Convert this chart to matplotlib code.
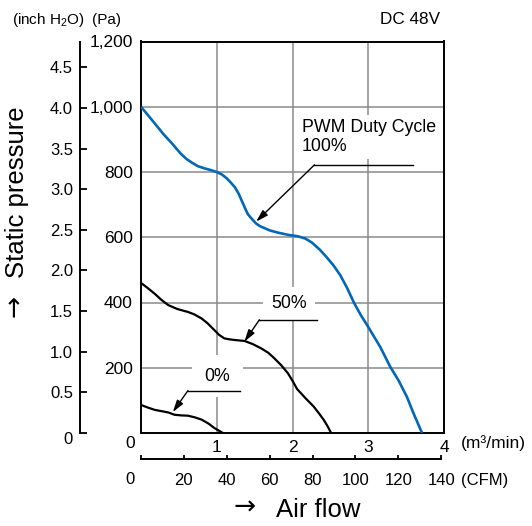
import numpy as np
import matplotlib
matplotlib.use("Agg")
import matplotlib.pyplot as plt
from matplotlib.ticker import FuncFormatter

plt.rcParams['font.family'] = ['Liberation Sans', 'DejaVu Sans']
plt.rcParams['mathtext.fontset'] = 'custom'
plt.rcParams['mathtext.rm'] = 'Liberation Sans'

# P-Q curves: air flow (m3/min), static pressure (Pa)
flow_100 = [0, 0.10, 0.22, 0.30, 0.40, 0.47, 0.53, 0.60, 0.67, 0.75, 0.84,
            0.92, 1.0, 1.07, 1.13, 1.18, 1.24, 1.29, 1.33, 1.37, 1.41, 1.46,
            1.52, 1.57, 1.63, 1.70, 1.81, 1.95, 2.07, 2.17, 2.26, 2.36, 2.45,
            2.54, 2.63, 2.72, 2.81, 2.90, 3.0, 3.08, 3.16, 3.29, 3.40, 3.51,
            3.60, 3.71]
pres_100 = [1000, 972, 938, 915, 890, 871, 855, 840, 829, 818, 811,
            806, 800, 792, 781, 769, 753, 733, 712, 691, 671, 657,
            642, 634, 628, 621, 614, 607, 603, 596, 583, 562, 539,
            514, 484, 445, 400, 362, 325, 294, 263, 203, 161, 111,
            59, 0]

flow_50 = [0, 0.09, 0.18, 0.27, 0.36, 0.48, 0.62, 0.70, 0.80, 0.88, 0.97,
           1.03, 1.10, 1.17, 1.24, 1.37, 1.48, 1.59, 1.68, 1.76, 1.85,
           1.94, 2.0, 2.06, 2.17, 2.28, 2.35, 2.41, 2.46, 2.51]
pres_50 = [460, 444, 427, 408, 392, 380, 371, 364, 351, 336, 315,
           301, 290, 287, 285, 282, 272, 259, 246, 229, 208,
           183, 160, 135, 107, 81, 60, 41, 22, 0]

flow_0 = [0, 0.09, 0.18, 0.27, 0.36, 0.44, 0.53, 0.62, 0.71, 0.80, 0.89,
          0.97, 1.03, 1.08]
pres_0 = [86, 78, 71, 67, 63, 56, 54, 53, 48, 41, 29, 15, 7, 0]

pa_ticks = [200, 400, 600, 800, 1000, 1200]
m3_ticks = [1, 2, 3, 4]
inch_ticks = [0, 0.5, 1.0, 1.5, 2.0, 2.5, 3.0, 3.5, 4.0, 4.5]
cfm_ticks = [0, 20, 40, 60, 80, 100, 120, 140]

PA_PER_INCH = 249.089
CFM_PER_M3 = 35.3147

BLUE = '#0068b7'
GRID = '#8a8a8a'

W, H = 532, 526
fig = plt.figure(figsize=(W / 100, H / 100), dpi=100)

L, R, T, B = 141, 444, 41.5, 433
ax = fig.add_axes([L / W, 1 - B / H, (R - L) / W, (B - T) / H])
ax.set_xlim(0, 4)
ax.set_ylim(0, 1200)

kw = dict(solid_joinstyle='round', solid_capstyle='butt', zorder=4)
ax.plot(flow_100, pres_100, color=BLUE, lw=1.9, **kw)
ax.plot(flow_50, pres_50, color='black', lw=1.6, **kw)
ax.plot(flow_0, pres_0, color='black', lw=1.6, **kw)

ax.set_xticks(m3_ticks)
ax.set_yticks(pa_ticks)
ax.yaxis.set_major_formatter(FuncFormatter(lambda v, p: f"{int(v):,}"))
ax.tick_params(length=0, labelsize=12.5)
ax.tick_params(axis='y', pad=6)
ax.tick_params(axis='x', pad=5)
ax.grid(True, color=GRID, lw=1.1, zorder=1)
for s in ax.spines.values():
    s.set_linewidth(1.4)
ax.text(-0.036, -0.026, '0', transform=ax.transAxes, ha='center', va='center',
        fontsize=12.5)
ax.text(1.055, -0.026, '(m³/min)', transform=ax.transAxes, ha='left',
        va='center', fontsize=12.5)

# leader lines + labels
box = dict(facecolor='white', edgecolor='none', pad=3)
leaders = [((2.29, 822), (3.59, 822), (1.52, 648)),
           ((1.563, 347), (2.329, 347), (1.365, 280)),
           ((0.62, 130), (1.31, 130), (0.42, 64))]
for knee, end, tip in leaders:
    ax.plot([knee[0], end[0]], [knee[1], end[1]], color='black', lw=1.0, zorder=3)
    ax.annotate('', xy=tip, xytext=knee, zorder=3,
                arrowprops=dict(arrowstyle='-|>,head_length=0.6,head_width=0.18',
                                color='black', lw=1.0, shrinkA=0, shrinkB=0,
                                mutation_scale=12))
ax.text(2.12, 961, 'PWM Duty Cycle\n100%', ha='left', va='top', fontsize=12.8,
        linespacing=1.1, bbox=box, zorder=2)
ax.text(1.955, 397, '50%', ha='center', va='center', fontsize=12.8,
        bbox=dict(facecolor='white', edgecolor='none', pad=6), zorder=2)
ax.text(1.01, 174, '0%', ha='center', va='center', fontsize=12.8,
        bbox=dict(facecolor='white', edgecolor='none', pad=9), zorder=2)

# inch H2O axis on the far left
ax2 = fig.add_axes([80 / W, 1 - B / H, 0.001, (B - T) / H])
ax2.set_facecolor('none')
ax2.set_ylim(0, 1200 / PA_PER_INCH)
ax2.set_yticks(inch_ticks)
ax2.set_yticklabels([''] + [f"{v:.1f}" for v in inch_ticks[1:]])
ax2.tick_params(axis='y', direction='in', length=5, width=1.3, labelsize=12,
                pad=5)
ax2.set_xticks([])
for k in ('top', 'right', 'bottom'):
    ax2.spines[k].set_visible(False)
ax2.spines['left'].set_linewidth(1.4)
fig.text(68 / W, 1 - 440 / H, '0', ha='center', va='center', fontsize=12)

# CFM axis below
ax3 = fig.add_axes([L / W, 1 - 459 / H, (R - L) / W, 0.001])
ax3.set_facecolor('none')
ax3.set_xlim(0, 4 * CFM_PER_M3)
ax3.set_xticks(cfm_ticks)
ax3.set_xticklabels([''] + [str(v) for v in cfm_ticks[1:]])
ax3.tick_params(axis='x', direction='in', length=3, width=1.3, labelsize=12,
                pad=10)
ax3.set_yticks([])
for k in ('top', 'right', 'left'):
    ax3.spines[k].set_visible(False)
ax3.spines['bottom'].set_linewidth(1.4)
ax3.spines['bottom'].set_bounds(0, 140)
fig.text(130 / W, 1 - 480 / H, '0', ha='center', va='center', fontsize=12)
fig.text(461 / W, 1 - 480 / H, '(CFM)', ha='left', va='center', fontsize=12)

# titles / axis names
fig.text(12 / W, 1 - 20 / H, '(inch H$_{\\rm 2}$O)', ha='left', va='center',
         fontsize=11)
fig.text(92 / W, 1 - 20 / H, '(Pa)', ha='left', va='center', fontsize=11)
fig.text(440 / W, 1 - 20 / H, 'DC 48V', ha='right', va='center', fontsize=12.3)
fig.text(318 / W, 1 - 510 / H, 'Air flow', ha='center', va='center',
         fontsize=18.5)
fig.text(245 / W, 1 - 508 / H, '→', ha='center', va='center',
         fontsize=19, family='DejaVu Sans')
fig.text(17 / W, 1 - 192.5 / H, 'Static pressure', ha='center', va='center',
         rotation=90, fontsize=18.5)
fig.text(15 / W, 1 - 306 / H, '→', ha='center', va='center', rotation=90,
         fontsize=19, family='DejaVu Sans')

fig.savefig('out.png', dpi=100)
